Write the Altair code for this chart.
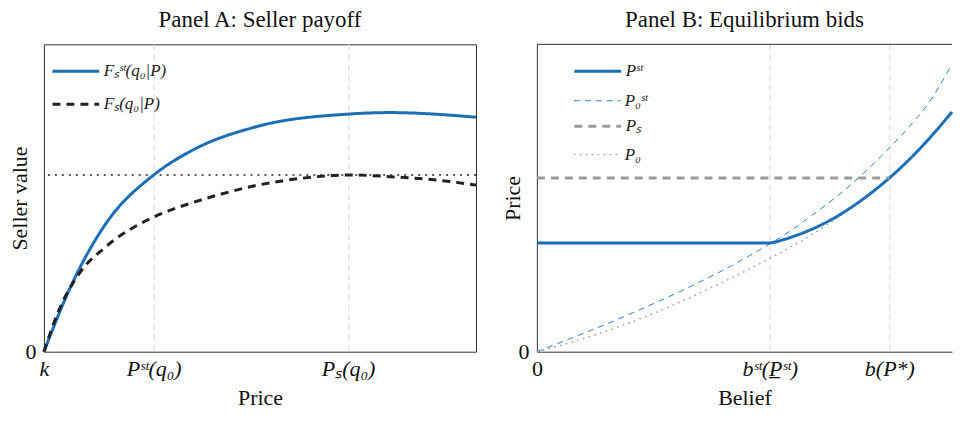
import altair as alt
import pandas as pd

SERIF = "Liberation Serif"
BLUE = "#1a6fb7"
GRAY = "#9a9a9a"

# ---------------- Panel A: Seller payoff ----------------
a_series = ["Fₛˢᵗ(q₀|P)", "Fₛ(q₀|P)"]
a_fst_price = [0, 6.5, 14.3, 25.4, 33.5, 49.7, 70.4, 80.0, 100]
a_fst_value = [0, 22.1, 41.6, 57.5, 64.9, 73.4, 77.3, 77.8, 76.3]
a_fs_price = [0, 3.5, 8.1, 14.3, 25.4, 33.5, 41.1, 48.5, 58.9, 70.4, 82.0, 91.2, 100]
a_fs_value = [0, 13.6, 25.3, 34.1, 43.8, 48.1, 51.3, 53.9, 56.3, 57.5, 56.8, 55.8, 54.2]
a_ref_level = [57.5]
a_tick_values = [0, 25.4, 70.4]
a_tick_labels = ["k", "Pˢᵗ(q₀)", "Pₛ(q₀)"]

# ---------------- Panel B: Equilibrium bids ----------------
b_thick_series = ["Pˢᵗ", "Pₛ"]
b_thin_series = ["P₀ˢᵗ", "P₀"]
b_pst_belief = [0, 56.1, 59.0, 62.6, 66.5, 70.4, 74.3, 78.2, 81.5, 84.9, 88.0, 91.0, 94.0, 97.0, 100]
b_pst_price = [35.4, 35.4, 36.3, 37.9, 40.0, 42.6, 45.7, 49.3, 52.7, 56.5, 60.3, 64.3, 68.6, 73.2, 78.0]
b_p0st_belief = [0, 7.7, 15.7, 23.5, 31.3, 39.1, 46.9, 54.0, 58.7, 66.5, 74.3, 82.2, 90.0, 93.9, 100]
b_p0st_price = [0, 4.1, 8.4, 12.9, 17.6, 22.6, 28.0, 33.4, 37.2, 44.6, 52.8, 62.6, 73.7, 80.0, 93.6]
b_ps_belief = [0, 84.9]
b_ps_price = [56.5, 56.5]
b_p0_belief = [0, 7.7, 15.7, 23.5, 31.3, 39.1, 46.9, 54.8, 61.7, 66.5, 70.4, 74.3, 77.5]
b_p0_price = [0, 2.8, 6.2, 10.0, 14.3, 19.0, 24.0, 29.4, 34.5, 38.3, 41.7, 45.4, 48.8]
b_tick_values = [0, 56.1, 84.9]
b_tick_labels = ["0", "bˢᵗ(P̲ˢᵗ)", "b(P*)"]


def label_expr(vals, labs):
    parts = [f"datum.value == {v} ? '{l}'" for v, l in zip(vals, labs)]
    return " : ".join(parts) + " : ''"


dfA = pd.concat([
    pd.DataFrame({"x": a_fst_price, "y": a_fst_value, "s": a_series[0]}),
    pd.DataFrame({"x": a_fs_price, "y": a_fs_value, "s": a_series[1]}),
])
dfB_thick = pd.concat([
    pd.DataFrame({"x": b_pst_belief, "y": b_pst_price, "s": b_thick_series[0]}),
    pd.DataFrame({"x": b_ps_belief, "y": b_ps_price, "s": b_thick_series[1]}),
])
dfB_thin = pd.concat([
    pd.DataFrame({"x": b_p0st_belief, "y": b_p0st_price, "s": b_thin_series[0]}),
    pd.DataFrame({"x": b_p0_belief, "y": b_p0_price, "s": b_thin_series[1]}),
])

FS = 22
WA, HA = 433, 308
WB, HB = 416, 308

is_zero = "datum.value == 0"


def x_axis(vals, labs, title, domain, label_style):
    return alt.Axis(
        values=vals, labelExpr=label_expr(vals, labs), title=title,
        grid=True, gridDash=[6, 4], gridColor="#e2e2e2", gridWidth=1.5,
        gridOpacity=alt.condition(is_zero, alt.value(0), alt.value(1)),
        ticks=False, domain=domain, domainColor="#333333", domainWidth=1,
        labelFont=SERIF, labelFontSize=FS, labelColor="#111111",
        labelFontStyle=label_style,
        labelPadding=7, labelFlush=False,
        titleFont=SERIF, titleFontSize=FS, titleFontWeight="normal", titleColor="#111111",
        titlePadding=8,
    )


def y_axis(title, domain):
    return alt.Axis(
        values=[0], labelExpr="'0'", title=title, grid=False, ticks=False,
        domain=domain, domainColor="#333333", domainWidth=1,
        labelFont=SERIF, labelFontSize=FS, labelColor="#111111", labelPadding=8,
        titleFont=SERIF, titleFontSize=FS, titleFontWeight="normal", titleColor="#111111",
        titlePadding=0, minExtent=12, maxExtent=12,
    )


def legend(x, y, stroke_width, row_pad):
    return alt.Legend(
        title=None, orient="none", legendX=x, legendY=y, symbolType="stroke",
        symbolSize=2200, labelFont=SERIF, labelFontStyle="italic", labelFontSize=17,
        labelColor="#222222", rowPadding=row_pad, labelOffset=3,
        symbolStrokeWidth=stroke_width,
    )


def title(t):
    return alt.TitleParams(t, font=SERIF, fontSize=23, fontWeight="normal", color="#111111",
                           anchor="middle", offset=12)


xA = alt.X("x:Q", scale=alt.Scale(domain=[0, 100], nice=False, zero=False),
           axis=x_axis(a_tick_values, a_tick_labels, "Price", False, "italic"))
yA = alt.Y("y:Q", scale=alt.Scale(domain=[0, 100], nice=False), axis=y_axis("Seller value", False))

legA = legend(7, 2, 3, -5)
linesA = alt.Chart(dfA).mark_line(strokeWidth=3, interpolate="monotone").encode(
    x=xA, y=yA,
    color=alt.Color("s:N", scale=alt.Scale(domain=a_series, range=[BLUE, "#222222"]), legend=legA),
    strokeDash=alt.StrokeDash("s:N", scale=alt.Scale(domain=a_series, range=[[1, 0], [8, 6]]), legend=legA),
)
refA = alt.Chart(pd.DataFrame({"y": a_ref_level})).mark_rule(
    color="#222222", strokeWidth=1.5, strokeDash=[2, 5]
).encode(y=alt.Y("y:Q", scale=alt.Scale(domain=[0, 100], nice=False)))

panelA = alt.layer(refA, linesA).properties(width=WA, height=HA, title=title("Panel A: Seller payoff"))

xB = alt.X("x:Q", scale=alt.Scale(domain=[0, 100], nice=False, zero=False),
           axis=x_axis(b_tick_values, b_tick_labels, "Belief", True,
                       alt.condition(is_zero, alt.value("normal"), alt.value("italic"))))
yB = alt.Y("y:Q", scale=alt.Scale(domain=[0, 100], nice=False), axis=y_axis("Price", True))

legThick = legend(36, 2, 3, 22)
legThin = legend(36, 32, 1.2, 21)
thickB = alt.Chart(dfB_thick).mark_line(strokeWidth=3, interpolate="monotone").encode(
    x=xB, y=yB,
    color=alt.Color("s:N", scale=alt.Scale(domain=b_thick_series, range=[BLUE, GRAY]), legend=legThick),
    strokeDash=alt.StrokeDash("s:N", scale=alt.Scale(domain=b_thick_series, range=[[1, 0], [8, 6]]), legend=legThick),
)
thinB = alt.Chart(dfB_thin).mark_line(interpolate="monotone").encode(
    x=xB, y=yB,
    color=alt.Color("s:N", scale=alt.Scale(domain=b_thin_series, range=["#2a80d2", GRAY]), legend=legThin),
    strokeDash=alt.StrokeDash("s:N", scale=alt.Scale(domain=b_thin_series, range=[[6, 5], [1.5, 4.5]]), legend=legThin),
    strokeWidth=alt.StrokeWidth("s:N", scale=alt.Scale(domain=b_thin_series, range=[1, 1.5]), legend=None),
)
topB = alt.Chart(pd.DataFrame({"a": [0]})).mark_rule(color="#333333", strokeWidth=1).encode(
    x=alt.value(0), x2=alt.value(WB), y=alt.value(0)
)
panelB = alt.layer(thinB, thickB, topB).resolve_scale(
    color="independent", strokeDash="independent"
).resolve_legend(color="independent", strokeDash="independent").properties(
    width=WB, height=HB, title=title("Panel B: Equilibrium bids"),
    view=alt.ViewBackground(stroke=None),
)

chart = alt.hconcat(panelA, panelB, spacing=19).resolve_scale(
    color="independent", strokeDash="independent"
).resolve_legend(color="independent", strokeDash="independent").properties(
    padding={"left": 0, "top": 0, "right": 0, "bottom": 0}
).configure_view(stroke="#333333", strokeWidth=1)

chart.save("out.html", embed_options={"renderer": "svg", "actions": False})
